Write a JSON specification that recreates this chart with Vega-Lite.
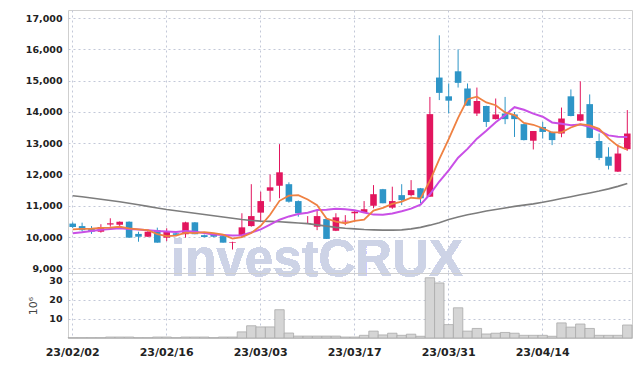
{
  "$schema": "https://vega.github.io/schema/vega-lite/v6.json",
  "padding": {"left": 24, "top": 9, "right": 10, "bottom": 5},
  "background": "white",
  "spacing": 0,
  "bounds": "flush",
  "config": {
    "view": {"stroke": "#cfcfcf", "strokeWidth": 1},
    "axis": {
      "labelFont": "DejaVu Sans",
      "labelFontWeight": "bold",
      "labelColor": "#222222",
      "gridColor": "#c3c8d8",
      "gridDash": [2, 3],
      "gridWidth": 1,
      "domain": false,
      "ticks": false,
      "labelPadding": 6,
      "labelOverlap": false
    }
  },
  "datasets": {
    "p": [
      {"d": "23/02/02", "o": 10430, "h": 10470, "l": 10290, "c": 10320, "m5": 10245, "m10": 10120, "mL": 11320, "v": 0.2},
      {"d": "23/02/03", "o": 10350, "h": 10460, "l": 10170, "c": 10220, "m5": 10260, "m10": 10150, "mL": 11290, "v": 0.2},
      {"d": "23/02/06", "o": 10260, "h": 10350, "l": 10100, "c": 10170, "m5": 10265, "m10": 10190, "mL": 11250, "v": 0.2},
      {"d": "23/02/07", "o": 10170, "h": 10410, "l": 10140, "c": 10320, "m5": 10290, "m10": 10230, "mL": 11210, "v": 0.2},
      {"d": "23/02/08", "o": 10400, "h": 10600, "l": 10330, "c": 10440, "m5": 10300, "m10": 10260, "mL": 11170, "v": 0.5},
      {"d": "23/02/09", "o": 10390, "h": 10500, "l": 10280, "c": 10490, "m5": 10328, "m10": 10280, "mL": 11130, "v": 0.5},
      {"d": "23/02/10", "o": 10490, "h": 10500, "l": 9980, "c": 9980, "m5": 10280, "m10": 10260, "mL": 11080, "v": 0.5},
      {"d": "23/02/13", "o": 10100, "h": 10170, "l": 9850, "c": 10010, "m5": 10248, "m10": 10240, "mL": 11030, "v": 0.2},
      {"d": "23/02/14", "o": 10010, "h": 10190, "l": 10000, "c": 10170, "m5": 10218, "m10": 10220, "mL": 10980, "v": 0.2},
      {"d": "23/02/15", "o": 10220, "h": 10300, "l": 9820, "c": 9820, "m5": 10094, "m10": 10194, "mL": 10930, "v": 0.5},
      {"d": "23/02/16", "o": 9980, "h": 10280, "l": 9870, "c": 10170, "m5": 10030, "m10": 10179, "mL": 10880, "v": 0.5},
      {"d": "23/02/17", "o": 10120, "h": 10140, "l": 10040, "c": 10070, "m5": 10048, "m10": 10164, "mL": 10840, "v": 0.2},
      {"d": "23/02/20", "o": 10090, "h": 10490, "l": 9980, "c": 10470, "m5": 10140, "m10": 10194, "mL": 10800, "v": 0.5},
      {"d": "23/02/21", "o": 10470, "h": 10480, "l": 10090, "c": 10090, "m5": 10124, "m10": 10171, "mL": 10760, "v": 0.5},
      {"d": "23/02/22", "o": 10060, "h": 10080, "l": 9990, "c": 10000, "m5": 10160, "m10": 10127, "mL": 10720, "v": 0.5},
      {"d": "23/02/23", "o": 10070, "h": 10110, "l": 9990, "c": 10010, "m5": 10128, "m10": 10079, "mL": 10680, "v": 0.2},
      {"d": "23/02/24", "o": 10030, "h": 10040, "l": 9820, "c": 9820, "m5": 10078, "m10": 10063, "mL": 10640, "v": 0.5},
      {"d": "23/02/27", "o": 9820, "h": 9850, "l": 9600, "c": 9840, "m5": 9952, "m10": 10046, "mL": 10600, "v": 0.5},
      {"d": "23/02/28", "o": 10030, "h": 10760, "l": 10000, "c": 10310, "m5": 9996, "m10": 10060, "mL": 10560, "v": 3.2},
      {"d": "23/03/02", "o": 10350, "h": 11690, "l": 10330, "c": 10670, "m5": 10130, "m10": 10145, "mL": 10530, "v": 6.4},
      {"d": "23/03/03", "o": 10780, "h": 11450, "l": 10490, "c": 11150, "m5": 10358, "m10": 10243, "mL": 10510, "v": 5.8},
      {"d": "23/03/06", "o": 11480, "h": 12000, "l": 11130, "c": 11590, "m5": 10712, "m10": 10395, "mL": 10500, "v": 5.8},
      {"d": "23/03/07", "o": 11640, "h": 12970, "l": 11240, "c": 12070, "m5": 11158, "m10": 10555, "mL": 10490, "v": 14.8},
      {"d": "23/03/08", "o": 11690, "h": 11750, "l": 11100, "c": 11130, "m5": 11322, "m10": 10659, "mL": 10470, "v": 2.6},
      {"d": "23/03/09", "o": 11150, "h": 11170, "l": 10650, "c": 10760, "m5": 11340, "m10": 10735, "mL": 10450, "v": 1.0},
      {"d": "23/03/10", "o": 10430, "h": 10670, "l": 10420, "c": 10450, "m5": 11200, "m10": 10779, "mL": 10430, "v": 1.0},
      {"d": "23/03/13", "o": 10330, "h": 10840, "l": 10220, "c": 10670, "m5": 11016, "m10": 10864, "mL": 10390, "v": 1.0},
      {"d": "23/03/14", "o": 10575, "h": 10600, "l": 9940, "c": 9940, "m5": 10590, "m10": 10874, "mL": 10350, "v": 1.0},
      {"d": "23/03/15", "o": 10200, "h": 10760, "l": 10190, "c": 10630, "m5": 10490, "m10": 10906, "mL": 10310, "v": 1.0},
      {"d": "23/03/16", "o": 10500, "h": 10700, "l": 10380, "c": 10520, "m5": 10442, "m10": 10891, "mL": 10280, "v": 0.5},
      {"d": "23/03/17", "o": 10760, "h": 10830, "l": 10490, "c": 10810, "m5": 10514, "m10": 10857, "mL": 10260, "v": 0.5},
      {"d": "23/03/20", "o": 10790, "h": 11150, "l": 10780, "c": 10890, "m5": 10558, "m10": 10787, "mL": 10240, "v": 1.4},
      {"d": "23/03/21", "o": 11000, "h": 11660, "l": 10920, "c": 11370, "m5": 10844, "m10": 10717, "mL": 10230, "v": 3.6},
      {"d": "23/03/22", "o": 11530, "h": 11540, "l": 11080, "c": 11080, "m5": 10934, "m10": 10712, "mL": 10220, "v": 1.6},
      {"d": "23/03/23", "o": 10940, "h": 11610, "l": 10900, "c": 11150, "m5": 11060, "m10": 10751, "mL": 10220, "v": 2.5},
      {"d": "23/03/24", "o": 11340, "h": 11690, "l": 11020, "c": 11180, "m5": 11134, "m10": 10824, "mL": 10230, "v": 1.4},
      {"d": "23/03/27", "o": 11340, "h": 11820, "l": 11300, "c": 11500, "m5": 11256, "m10": 10907, "mL": 10260, "v": 2.0},
      {"d": "23/03/28", "o": 11560, "h": 11570, "l": 11080, "c": 11240, "m5": 11230, "m10": 11037, "mL": 10310, "v": 0.9},
      {"d": "23/03/29", "o": 11290, "h": 14480, "l": 11280, "c": 13930, "m5": 11800, "m10": 11367, "mL": 10380, "v": 31.5},
      {"d": "23/03/30", "o": 15100, "h": 16450, "l": 14380, "c": 14610, "m5": 12492, "m10": 11776, "mL": 10460, "v": 28.8},
      {"d": "23/03/31", "o": 14500, "h": 14910, "l": 13950, "c": 14360, "m5": 13128, "m10": 12131, "mL": 10560, "v": 7.0},
      {"d": "23/04/03", "o": 15300, "h": 16000, "l": 14780, "c": 14930, "m5": 13814, "m10": 12535, "mL": 10640, "v": 15.8},
      {"d": "23/04/04", "o": 14750, "h": 14910, "l": 14200, "c": 14200, "m5": 14406, "m10": 12818, "mL": 10710, "v": 3.6},
      {"d": "23/04/05", "o": 13950, "h": 14780, "l": 13870, "c": 14350, "m5": 14490, "m10": 13145, "mL": 10770, "v": 5.0},
      {"d": "23/04/06", "o": 14190, "h": 14200, "l": 13520, "c": 13680, "m5": 14304, "m10": 13398, "mL": 10830, "v": 2.1},
      {"d": "23/04/07", "o": 13770, "h": 14430, "l": 13760, "c": 13920, "m5": 14216, "m10": 13672, "mL": 10880, "v": 2.5},
      {"d": "23/04/10", "o": 13950, "h": 14480, "l": 13610, "c": 13770, "m5": 13984, "m10": 13899, "mL": 10930, "v": 2.9},
      {"d": "23/04/11", "o": 13920, "h": 14000, "l": 13200, "c": 13770, "m5": 13898, "m10": 14152, "mL": 10980, "v": 2.5},
      {"d": "23/04/12", "o": 13610, "h": 13620, "l": 13090, "c": 13100, "m5": 13648, "m10": 14069, "mL": 11020, "v": 1.4},
      {"d": "23/04/13", "o": 13080, "h": 13390, "l": 12800, "c": 13390, "m5": 13590, "m10": 13947, "mL": 11060, "v": 1.4},
      {"d": "23/04/14", "o": 13520, "h": 13680, "l": 13150, "c": 13360, "m5": 13478, "m10": 13847, "mL": 11110, "v": 1.4},
      {"d": "23/04/17", "o": 13360, "h": 13370, "l": 12940, "c": 13100, "m5": 13344, "m10": 13664, "mL": 11170, "v": 0.9},
      {"d": "23/04/18", "o": 13310, "h": 14140, "l": 13190, "c": 13790, "m5": 13348, "m10": 13623, "mL": 11230, "v": 7.9},
      {"d": "23/04/19", "o": 14500, "h": 14720, "l": 13860, "c": 13870, "m5": 13502, "m10": 13575, "mL": 11290, "v": 5.7},
      {"d": "23/04/20", "o": 13720, "h": 14980, "l": 13700, "c": 13930, "m5": 13610, "m10": 13598, "mL": 11350, "v": 7.3},
      {"d": "23/04/21", "o": 14250, "h": 14560, "l": 13160, "c": 13170, "m5": 13572, "m10": 13523, "mL": 11410, "v": 5.0},
      {"d": "23/04/24", "o": 13070, "h": 13310, "l": 12460, "c": 12530, "m5": 13458, "m10": 13399, "mL": 11470, "v": 1.4},
      {"d": "23/04/25", "o": 12570, "h": 12870, "l": 12160, "c": 12280, "m5": 13156, "m10": 13250, "mL": 11540, "v": 1.4},
      {"d": "23/04/26", "o": 12090, "h": 12960, "l": 12080, "c": 12670, "m5": 12916, "m10": 13207, "mL": 11620, "v": 1.4},
      {"d": "23/04/27", "o": 12810, "h": 14060, "l": 12760, "c": 13310, "m5": 12792, "m10": 13199, "mL": 11710, "v": 6.8}
    ]
  },
  "resolve": {"scale": {"x": "shared"}},
  "vconcat": [
    {
      "width": 564,
      "height": 263,
      "data": {"name": "p"},
      "encoding": {
        "x": {
          "field": "d", "type": "ordinal", "sort": null,
          "scale": {"type": "band", "paddingInner": 0, "paddingOuter": 0},
          "axis": {"title": null, "labels": false, "grid": true,
                   "values": ["23/02/02", "23/02/16", "23/03/03", "23/03/17", "23/03/31", "23/04/14"]}
        }
      },
      "layer": [
        {
          "mark": {"type": "rule", "strokeWidth": 1, "clip": true},
          "encoding": {
            "y": {"field": "l", "type": "quantitative",
                  "scale": {"domain": [8850, 17260], "nice": false, "zero": false},
                  "axis": {"title": null, "values": [9000, 10000, 11000, 12000, 13000, 14000, 15000, 16000, 17000], "tickCount": 9, "format": ",.0f", "labelFontSize": 9.5}},
            "y2": {"field": "h"},
            "color": {"condition": {"test": "datum.c >= datum.o", "value": "#e2165e"}, "value": "#2e95c7"}
          }
        },
        {
          "mark": {"type": "text", "text": "investCRUX", "font": "Liberation Sans", "fontWeight": "bold", "fontSize": 51, "color": "#cdd3e6", "opacity": 0.85, "baseline": "alphabetic", "align": "center", "clip": false},
          "encoding": {
            "x": {"datum": "23/03/13"},
            "y": {"datum": 8770, "type": "quantitative",
                  "axis": {"title": null, "values": [9000, 10000, 11000, 12000, 13000, 14000, 15000, 16000, 17000], "tickCount": 9, "format": ",.0f", "labelFontSize": 9.5}}
          }
        },
        {
          "mark": {"type": "bar", "width": {"band": 0.7}, "clip": true},
          "encoding": {
            "y": {"field": "o", "type": "quantitative",
                  "axis": {"title": null, "values": [9000, 10000, 11000, 12000, 13000, 14000, 15000, 16000, 17000], "tickCount": 9, "format": ",.0f", "labelFontSize": 9.5}},
            "y2": {"field": "c"},
            "color": {"condition": {"test": "datum.c >= datum.o", "value": "#e2165e"}, "value": "#2e95c7"}
          }
        },
        {
          "mark": {"type": "line", "color": "#7d7d7d", "strokeWidth": 1.6, "clip": true},
          "encoding": {"y": {"field": "mL", "type": "quantitative",
                  "axis": {"title": null, "values": [9000, 10000, 11000, 12000, 13000, 14000, 15000, 16000, 17000], "tickCount": 9, "format": ",.0f", "labelFontSize": 9.5}}}
        },
        {
          "mark": {"type": "line", "color": "#c94fe6", "strokeWidth": 2, "clip": true},
          "encoding": {"y": {"field": "m10", "type": "quantitative",
                  "axis": {"title": null, "values": [9000, 10000, 11000, 12000, 13000, 14000, 15000, 16000, 17000], "tickCount": 9, "format": ",.0f", "labelFontSize": 9.5}}}
        },
        {
          "mark": {"type": "line", "color": "#ef8142", "strokeWidth": 1.8, "clip": true},
          "encoding": {"y": {"field": "m5", "type": "quantitative",
                  "axis": {"title": null, "values": [9000, 10000, 11000, 12000, 13000, 14000, 15000, 16000, 17000], "tickCount": 9, "format": ",.0f", "labelFontSize": 9.5}}}
        }
      ]
    },
    {
      "width": 564,
      "height": 65,
      "data": {"name": "p"},
      "mark": {"type": "bar", "width": {"band": 1}, "color": "#d5d5d5", "stroke": "#a9a9a9", "strokeWidth": 0.8},
      "encoding": {
        "x": {
          "field": "d", "type": "ordinal", "sort": null,
          "axis": {"title": null, "grid": true, "labelAngle": 0, "labelFontSize": 11, "labelPadding": 8,
                   "values": ["23/02/02", "23/02/16", "23/03/03", "23/03/17", "23/03/31", "23/04/14"]}
        },
        "y": {
          "field": "v", "type": "quantitative",
          "scale": {"domain": [0, 34], "nice": false},
          "axis": {"title": "10⁶", "titleFont": "DejaVu Sans", "titleFontSize": 11, "titleFontWeight": "normal", "titleColor": "#444444", "titlePadding": 10,
                   "values": [10, 20, 30], "format": "d", "labelFontSize": 9.5}
        }
      }
    }
  ]
}
